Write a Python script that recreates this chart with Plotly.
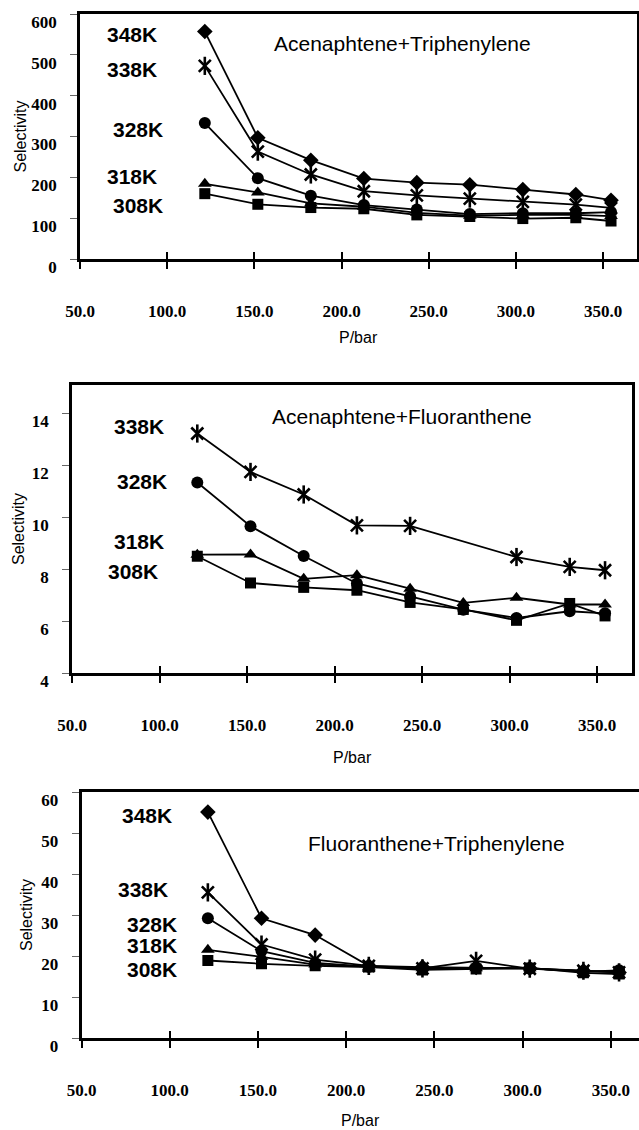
import plotly.graph_objects as go

# ---------------- data ----------------
pressure = [121.6, 152.0, 182.4, 212.8, 243.2, 273.6, 304.0, 334.4, 354.6]
temps = ["348K", "338K", "328K", "318K", "308K"]
x_ticks = [50, 100, 150, 200, 250, 300, 350]
x_ticktext = ["50.0", "100.0", "150.0", "200.0", "250.0", "300.0", "350.0"]

# Acenaphtene + Triphenylene
at_348 = [557, 297, 242, 197, 187, 182, 170, 158, 144]
at_338 = [473, 263, 207, 166, 156, 148, 140, 133, 125]
at_328 = [333, 198, 155, 132, 121, 110, 112, 112, 115]
at_318 = [184, 163, 136, 128, 113, 106, 108, 108, 105]
at_308 = [160, 134, 126, 123, 108, 104, 99, 101, 93]

# Acenaphtene + Fluoranthene (no 348K series)
af_338 = [13.23, 11.75, 10.88, 9.69, 9.67, None, 8.47, 8.09, 7.96]
af_328 = [11.34, 9.66, 8.51, 7.45, 6.95, 6.44, 6.12, 6.38, 6.30]
af_318 = [8.56, 8.57, 7.63, 7.77, 7.25, 6.70, 6.90, 6.64, 6.64]
af_308 = [8.50, 7.47, 7.30, 7.19, 6.72, 6.45, 6.03, 6.68, 6.20]

# Fluoranthene + Triphenylene
ft_348 = [55.1, 29.2, 25.1, 17.6, 17.3, 17.2, 17.0, 16.4, 16.0]
ft_338 = [35.5, 22.8, 19.1, 17.6, 17.0, 18.8, 16.9, 16.4, 16.0]
ft_328 = [29.2, 21.2, 18.3, 17.4, 17.0, 17.1, 16.9, 16.2, 16.5]
ft_318 = [21.5, 19.8, 17.9, 17.4, 17.0, 17.0, 17.0, 16.3, 16.2]
ft_308 = [18.9, 18.1, 17.6, 17.3, 16.6, 16.8, 17.1, 15.9, 15.6]

titles = ["Acenaphtene+Triphenylene", "Acenaphtene+Fluoranthene", "Fluoranthene+Triphenylene"]

# label positions (data coords) for temperature labels
at_label_x = [80, 80, 83, 80, 83]
at_label_y = [549, 465, 318, 201, 130]
af_label_x = [88, 90, 88, 85]
af_label_y = [13.49, 11.37, 9.05, 7.9]
ft_label_x = [87, 85, 90, 90, 90]
ft_label_y = [54.3, 36.1, 27.8, 22.5, 16.8]

# ---------------- styling ----------------
W, H = 639, 1130
BLACK = "black"
sym = {"348K": "diamond", "338K": "x-thin-open", "328K": "circle",
       "318K": "triangle-up", "308K": "square"}
msize = {"348K": 12, "338K": 12, "328K": 12, "318K": 12, "308K": 11}

# panel pixel geometry: left, right, top, bottom
geo = [
    (80, 637, 14, 259),
    (72, 632, 385, 673),
    (81.5, 639, 792, 1038),
]
xr = [[50, 369.5], [50, 370], [50, 365.9]]
yr = [[0, 600], [4, 15.1], [0, 60]]
ytv = [list(range(0, 601, 100)), list(range(4, 15, 2)), list(range(0, 61, 10))]
pbar_y = [337, 757, 1120]
sel_x = [20, 18, 26]
title_pos = [(235, 527), (238.6, 13.87), (251, 47.4)]

series = [
    [("348K", at_348), ("338K", at_338), ("328K", at_328), ("318K", at_318), ("308K", at_308)],
    [("338K", af_338), ("328K", af_328), ("318K", af_318), ("308K", af_308)],
    [("348K", ft_348), ("338K", ft_338), ("328K", ft_328), ("318K", ft_318), ("308K", ft_308)],
]
labels = [
    (["348K", "338K", "328K", "318K", "308K"], at_label_x, at_label_y),
    (["338K", "328K", "318K", "308K"], af_label_x, af_label_y),
    (["348K", "338K", "328K", "318K", "308K"], ft_label_x, ft_label_y),
]

fig = go.Figure()
annotations = []
layout = dict(width=W, height=H, margin=dict(l=0, r=0, t=0, b=0, autoexpand=False),
              paper_bgcolor="white", plot_bgcolor="white", showlegend=False,
              template="none")

for i in range(3):
    xa = "x" if i == 0 else f"x{i+1}"
    ya = "y" if i == 0 else f"y{i+1}"
    for name, vals in series[i]:
        if name == "338K":
            fig.add_trace(go.Scatter(
                x=pressure, y=vals, xaxis=xa, yaxis=ya, mode="lines+markers",
                connectgaps=True, line=dict(color=BLACK, width=1.8),
                marker=dict(symbol="x-thin-open", size=msize[name], color=BLACK,
                            line=dict(color=BLACK, width=2.6))))
            fig.add_trace(go.Scatter(
                x=pressure, y=vals, xaxis=xa, yaxis=ya, mode="markers",
                marker=dict(symbol="line-ns-open", size=msize[name] + 1, color=BLACK,
                            line=dict(color=BLACK, width=2.6))))
        else:
            fig.add_trace(go.Scatter(
                x=pressure, y=vals, xaxis=xa, yaxis=ya, mode="lines+markers",
                line=dict(color=BLACK, width=1.8),
                marker=dict(symbol=sym[name], size=msize[name], color=BLACK,
                            line=dict(width=0))))
    # empty trace so the overlay axis (inner tick halves) is drawn
    fig.add_trace(go.Scatter(x=[], y=[], xaxis=f"x{i+4}", yaxis=ya, hoverinfo="skip"))

    l, r, t, b = geo[i]
    xkey = "xaxis" if i == 0 else f"xaxis{i+1}"
    ykey = "yaxis" if i == 0 else f"yaxis{i+1}"
    layout[xkey] = dict(
        domain=[l / W, min(r / W, 1.0)], range=xr[i], anchor=ya, automargin=False,
        showline=True, linewidth=2.5, linecolor=BLACK, mirror=True,
        ticks="outside", ticklen=7, tickwidth=1.5, tickcolor=BLACK,
        tickvals=x_ticks, ticktext=x_ticktext,
        tickfont=dict(family="Liberation Serif", size=17, color=BLACK, weight="bold"),
        ticklabelstandoff=28, showgrid=False, zeroline=False)
    layout[ykey] = dict(
        domain=[1 - b / H, 1 - t / H], range=yr[i], anchor=xa, automargin=False,
        showline=True, linewidth=2.5, linecolor=BLACK, mirror=True,
        ticks="outside", ticklen=7, tickwidth=1, tickcolor="#666",
        tickvals=ytv[i],
        tickfont=dict(family="Liberation Serif", size=17, color=BLACK, weight="bold"),
        ticklabelstandoff=10, ticklabelshift=8, showgrid=False, zeroline=False)
    # inner half of the crossing x ticks
    ikey = f"xaxis{i+4}"
    layout[ikey] = dict(
        domain=[l / W, min(r / W, 1.0)], range=xr[i], anchor=ya, overlaying=xa,
        side="bottom", automargin=False,
        showline=False, ticks="inside", ticklen=7, tickwidth=1.5, tickcolor=BLACK,
        tickvals=x_ticks, showticklabels=False, showgrid=False, zeroline=False)

    # panel title
    tx, ty = title_pos[i]
    annotations.append(dict(x=tx, y=ty, xref=xa, yref=ya, text=titles[i],
                            showarrow=False,
                            font=dict(family="Liberation Sans", size=21, color=BLACK)))
    # temperature labels
    for txt, lx, ly in zip(*labels[i]):
        annotations.append(dict(x=lx, y=ly, xref=xa, yref=ya, text=txt, showarrow=False,
                                font=dict(family="Liberation Sans", size=21, color=BLACK,
                                          weight="bold")))
    # axis titles
    annotations.append(dict(x=0.5, y=1 - pbar_y[i] / H, xref=f"{xa} domain", yref="paper",
                            text="P/bar", showarrow=False, yanchor="middle",
                            font=dict(family="Liberation Sans", size=16, color=BLACK)))
    annotations.append(dict(x=sel_x[i] / W, y=1 - (t + b) / 2 / H, xref="paper", yref="paper",
                            text="Selectivity", showarrow=False, textangle=-90,
                            xanchor="center", yanchor="middle",
                            font=dict(family="Liberation Sans", size=16, color=BLACK)))

layout["annotations"] = annotations
fig.update_layout(**layout)
fig.write_html("out.html", config={"displayModeBar": False},
               post_script="document.body.style.margin='0px';document.body.style.overflow='hidden';")
